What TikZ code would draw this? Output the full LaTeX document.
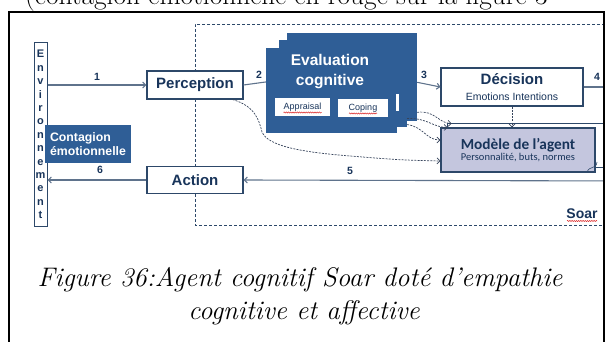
\documentclass[tikz,border=0pt]{standalone}
\usepackage{fontspec}
\newfontfamily\arialf{Liberation Sans}
\newfontfamily\calf{Carlito}
\usetikzlibrary{arrows.meta,decorations.pathmorphing,calc}
\definecolor{evblue}{RGB}{47,94,150}
\definecolor{txtblue}{RGB}{24,52,90}
\definecolor{bord}{RGB}{45,72,105}
\definecolor{arrc}{RGB}{95,115,140}
\definecolor{modfill}{RGB}{196,198,222}
\definecolor{dashc}{RGB}{55,68,92}
\definecolor{squigred}{RGB}{220,40,40}
\tikzset{
  box/.style={draw=bord, line width=1.1pt, fill=white, inner sep=0pt,
    font=\arialf\bfseries\fontsize{15}{17}\selectfont, text=txtblue},
  evpage/.style={fill=evblue, draw=none, inner sep=0pt},
  smallbox/.style={fill=white, draw=none, inner sep=0pt,
    font=\arialf\fontsize{9}{10}\selectfont, text=txtblue},
  arrline/.style={draw=arrc, line width=1.1pt},
  arr/.style={arrline, -{Straight Barb[length=3pt,width=6pt]}},
  darr/.style={draw=dashc, line width=0.7pt, dash pattern=on 2pt off 1.2pt,
    -{Straight Barb[length=3pt,width=6pt]}},
  numlab/.style={font=\arialf\bfseries\fontsize{10.5}{10.5}\selectfont, text=txtblue},
  squig/.style={draw=squigred, line width=0.5pt,
    decorate, decoration={snake, amplitude=0.6pt, segment length=2.2pt}},
}
\newlength\capw
\AtBeginDocument{%
  \settowidth\capw{\fontsize{24}{24}\selectfont\itshape Figure 36:Agent cognitif Soar dot\'e d’empathie}%
  \pgfmathsetmacro\capscale{525pt/\capw}%
}
\begin{document}
\begin{tikzpicture}[x=1pt,y=-1pt]
\useasboundingbox (0,0) rectangle (605,342);
% top text, cut by the page edge as in the reference
\node[anchor=base west, inner sep=0pt] (toptext) at (25,5)
  {\scalebox{\capscale}{\fontsize{24.5}{24}\selectfont (contagion \'emotionnelle en rouge sur la figure 3}};
% Soar dashed box
\draw[draw=bord, line width=0.8pt, dash pattern=on 3pt off 2pt] (625,24) -- (195,24) -- (195,225) -- (625,225);
\node[font=\arialf\bfseries\fontsize{14}{14}\selectfont, text=txtblue] (soar) at (582,214) {Soar};
\draw[squig] ($(soar.center)+(-15,7)$) -- ($(soar.center)+(15,7)$);
% Environnement
\node[draw=bord, line width=1pt, fill=white, minimum width=13pt, minimum height=183pt, inner sep=0pt,
  font=\arialf\bfseries\fontsize{11}{13.4}\selectfont, text=txtblue, align=center] (env) at (40.5,134.5)
  {E\\n\\v\\i\\r\\o\\n\\n\\e\\m\\e\\n\\t};
% Perception / Action
\node[box, minimum width=96pt, minimum height=28pt] (perc) at (195,85) {Perception};
\node[box, minimum width=96pt, minimum height=27pt] (act) at (195,180) {Action};
% Contagion
\node[fill=evblue, minimum width=86pt, minimum height=38pt, inner sep=0pt, text=white,
  font=\arialf\bfseries\fontsize{12.3}{14}\selectfont, align=left] (cont) at (88,144)
  {Contagion\\\'emotionnelle};
% Evaluation cognitive pages
\node[evpage, minimum width=130pt, minimum height=88pt] (ev3) at (352,77) {};
\node[evpage, minimum width=128pt, minimum height=87pt] (ev2) at (343,83.5) {};
\node[evpage, minimum width=131pt, minimum height=85pt] (ev1) at (331.5,90.5) {};
\node[text=white, font=\arialf\bfseries\fontsize{15.5}{20}\selectfont, align=center] (evtxt) at (330,72)
  {Evaluation\\cognitive};
\node[smallbox, minimum width=55pt, minimum height=18pt] (appr) at (302.5,107) {Appraisal};
\node[smallbox, minimum width=50pt, minimum height=18pt] (cop) at (363,108) {Coping};
\draw[squig] ($(appr.center)+(-19,5.5)$) -- ($(appr.center)+(19,5.5)$);
\draw[squig] ($(cop.center)+(-14,5.5)$) -- ($(cop.center)+(14,5.5)$);
\fill[white] (396,94) rectangle (399,111);
% Decision
\node[box, minimum width=142pt, minimum height=38pt, align=center] (dec) at (512,87)
  {D\'ecision\\[-1pt]{\arialf\mdseries\fontsize{10.5}{12}\selectfont Emotions Intentions}};
% Modele
\node[draw=bord, line width=0.8pt, fill=white, minimum width=156pt, minimum height=44pt] (modback) at (525,145) {};
\node[draw=bord, line width=1.1pt, fill=modfill, minimum width=154pt, minimum height=44pt, inner sep=0pt,
  align=center, text=txtblue] (mod) at (518,150)
  {{\calf\bfseries\fontsize{15.3}{17}\selectfont Mod\`ele de l’agent}\\[-1pt]{\calf\fontsize{10.5}{12}\selectfont Personnalit\'e, buts, normes}};
\draw[bord, line width=0.6pt] (587,172) .. controls (590,165) and (596,170) .. (597,162);
% coordinates for free ends
\coordinate (rightA) at (625,87);
\coordinate (rightB) at (625,181);
% arrows
\draw[arr] (env.east |- perc.west) -- (perc.west);
\node[numlab] (n1) at (97,77) {1};
\draw[arrline] (perc.east) -- ($(ev1.north west)!0.4!(ev1.south west)$);
\node[numlab] (n2) at (259,75) {2};
\draw[arr] ($(ev3.north east)!0.56!(ev3.south east)$) -- (dec.west);
\node[numlab] (n3) at (424,75) {3};
\draw[arrline] (dec.east) -- (rightA);
\node[numlab] (n4) at (597,77) {4};
\draw[arr] (rightB) -- (act.east);
\node[numlab] (n5) at (350,171) {5};
\draw[arr] (act.west) -- (env.east |- act.west);
\node[numlab] (n6) at (100,170) {6};
% dashed connectors
\draw[darr] (dec.south) -- (dec.south |- mod.north);
\draw[darr] ($(perc.south east)+(-11,0)$) .. controls (255,106) and (259,120) .. (262,132)
  .. controls (268,146) and (300,152) .. (350,156) .. controls (400,160) .. (mod.west |- 0,161);
\draw[darr] ($(ev3.north east)!0.9!(ev3.south east)$) .. controls (435,110) and (438,123) .. ($(modback.north west)+(5,1)$);
\draw[darr] ($(ev2.north east)!0.9!(ev2.south east)$) .. controls (428,118) and (432,127) .. ($(modback.north west)+(1,5)$);
\draw[darr] ($(ev2.north east)!0.97!(ev2.south east)$) .. controls (424,127) and (426,140) .. (mod.west |- 0,140);
% caption
\node[anchor=base, inner sep=0pt] (cap1) at (300,286)
  {\scalebox{\capscale}{\fontsize{24}{24}\selectfont\itshape Figure 36:Agent cognitif Soar dot\'e d’empathie}};
\node[anchor=base, inner sep=0pt] (cap2) at (304,319)
  {\scalebox{\capscale}{\fontsize{24}{24}\selectfont\itshape cognitive et affective}};
% frame
\draw[line width=2pt] (9,360) -- (9,12) -- (603.5,12) -- (603.5,360);
\end{tikzpicture}
\end{document}
